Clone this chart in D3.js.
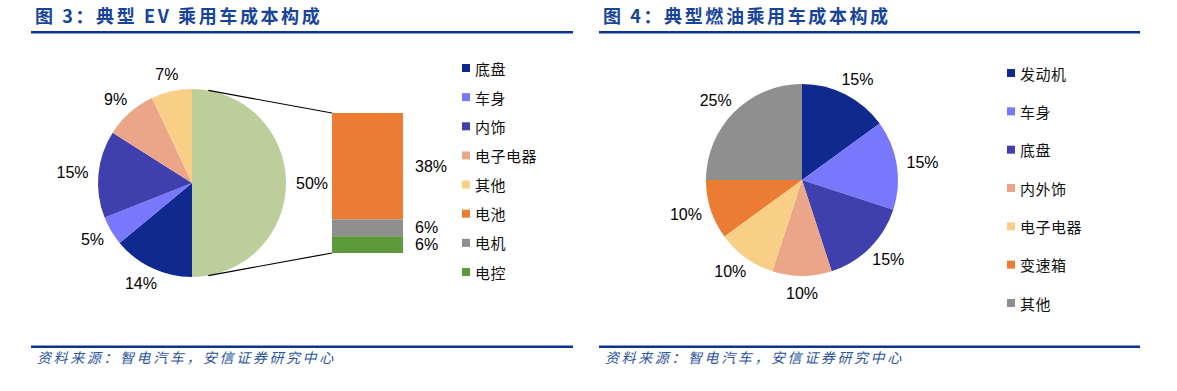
<!DOCTYPE html>
<html>
<head>
<meta charset="utf-8">
<script src="https://cdn.jsdelivr.net/npm/d3@7"></script>
<style>
  html, body { margin:0; padding:0; background:#fff; }
  svg { display:block; }
</style>
</head>
<body>
<div id="chart"></div>
<script>
// Two cost-structure pies: EV (pie + bar-of-pie) and ICE car
const evTitle = "图 3：典型 EV 乘用车成本构成";
const iceTitle = "图 4：典型燃油乘用车成本构成";
const sourceText = "资料来源：智电汽车，安信证券研究中心";

// EV pie slices (first one is the split-out group shown as bar)
const evPieNames  = ["电池系统", "底盘", "车身", "内饰", "电子电器", "其他"];
const evPieValues = [50, 14, 5, 15, 9, 7];
// EV bar (breakdown of the 50% group)
const evBarNames  = ["电池", "电机", "电控"];
const evBarValues = [38, 6, 6];
// EV legend order
const evLegend = ["底盘", "车身", "内饰", "电子电器", "其他", "电池", "电机", "电控"];

// ICE pie
const iceNames  = ["发动机", "车身", "底盘", "内外饰", "电子电器", "变速箱", "其他"];
const iceValues = [15, 15, 15, 10, 10, 10, 25];

const COLOR = {
  "电池系统": "#bccf9b",
  "底盘": "#0f298f",
  "车身": "#7878fd",
  "内饰": "#403fae",
  "电子电器": "#eba68a",
  "其他": "#f9cf87",
  "电池": "#ea7d33",
  "电机": "#8f8f8f",
  "电控": "#5f993d"
};
const ICE_COLOR = {
  "发动机": "#0f298f",
  "车身": "#7878fd",
  "底盘": "#403fae",
  "内外饰": "#eba68a",
  "电子电器": "#f9cf87",
  "变速箱": "#ea7d33",
  "其他": "#8f8f8f"
};

const W = 1177, H = 391;
const titleColor = "#17449a";
const ruleColor = "#0a3595";
const labelFont = "'Liberation Sans', Arial, sans-serif";
const cjkFont = "'Noto Sans CJK SC', sans-serif";

const svg = d3.select("#chart").append("svg")
  .attr("width", W).attr("height", H)
  .attr("viewBox", `0 0 ${W} ${H}`);

// ---- frame: title, rules, source ----
function frame(x0, x1, title) {
  svg.append("text")
    .attr("x", x0 + 4).attr("y", 23)
    .attr("fill", titleColor)
    .attr("font-family", cjkFont)
    .attr("font-weight", 700)
    .attr("font-size", 18)
    .attr("letter-spacing", 2.6)
    .text(title);
  svg.append("rect").attr("x", x0).attr("y", 31).attr("width", x1 - x0).attr("height", 2.5).attr("fill", ruleColor);
  svg.append("rect").attr("x", x0).attr("y", 345.5).attr("width", x1 - x0).attr("height", 2.5).attr("fill", ruleColor);
  svg.append("text")
    .attr("x", x0 + 6).attr("y", 363)
    .attr("fill", "#2d559c")
    .attr("font-family", cjkFont)
    .attr("font-style", "italic")
    .attr("font-size", 14)
    .attr("letter-spacing", 2.6)
    .text(sourceText);
}
frame(31, 573, evTitle);
frame(599, 1140, iceTitle);

// ---- helpers ----
const pie = d3.pie().sort(null).value(d => d.v).startAngle(0).endAngle(2 * Math.PI);

function outsideLabel(g, arcD, r, text) {
  const a = (arcD.startAngle + arcD.endAngle) / 2;
  const t = g.append("text")
    .attr("font-family", labelFont)
    .attr("font-size", 16)
    .attr("fill", "#000")
    .attr("text-anchor", "middle")
    .attr("dominant-baseline", "central")
    .text(text);
  const w = t.node().getComputedTextLength();
  const h = 14;
  const rr = r + 10;
  const x = rr * Math.sin(a) + (w / 2) * Math.sin(a);
  const y = -rr * Math.cos(a) - (h / 2) * Math.cos(a);
  t.attr("x", x).attr("y", y);
}

function legend(names, colors, x, y0, y1) {
  const ys = d3.scalePoint().domain(names).range([y0, y1]);
  const g = svg.append("g");
  names.forEach(n => {
    g.append("rect").attr("x", x).attr("y", ys(n) - 4).attr("width", 8).attr("height", 8).attr("fill", colors[n]);
    g.append("text")
      .attr("x", x + 13).attr("y", ys(n))
      .attr("dominant-baseline", "central")
      .attr("font-family", cjkFont)
      .attr("font-size", 15)
      .attr("letter-spacing", 0.5)
      .attr("fill", "#111")
      .text(n);
  });
}

// ---- EV pie ----
const r1 = 94;
const cx1 = 192, cy1 = 183;
const g1 = svg.append("g").attr("transform", `translate(${cx1},${cy1})`);
const evData = pie(evPieNames.map((n, i) => ({ n, v: evPieValues[i] })));
const arc1 = d3.arc().innerRadius(0).outerRadius(r1);
g1.selectAll("path").data(evData).join("path")
  .attr("d", arc1)
  .attr("fill", d => COLOR[d.data.n]);
evData.forEach(d => outsideLabel(g1, d, r1, d.data.v + "%"));

// bar of pie
const barX = d3.scaleBand().domain(["bar"]).range([332, 403]).padding(0);
const barTotal = d3.sum(evBarValues);
const barY = d3.scaleLinear().domain([0, barTotal]).range([113, 253]);
let acc = 0;
const stacked = evBarNames.map((n, i) => {
  const s = { n, v: evBarValues[i], y0: acc, y1: acc + evBarValues[i] };
  acc += evBarValues[i];
  return s;
});
svg.selectAll("rect.evbar").data(stacked).join("rect")
  .attr("class", "evbar")
  .attr("x", barX("bar"))
  .attr("width", barX.bandwidth())
  .attr("y", d => barY(d.y0))
  .attr("height", d => barY(d.y1) - barY(d.y0))
  .attr("fill", d => COLOR[d.n]);
svg.selectAll("text.evbarlab").data(stacked).join("text")
  .attr("class", "evbarlab")
  .attr("x", barX("bar") + barX.bandwidth() + 12)
  .attr("y", d => (barY(d.y0) + barY(d.y1)) / 2)
  .attr("dominant-baseline", "central")
  .attr("font-family", labelFont)
  .attr("font-size", 16)
  .text(d => d.v + "%");

// connector lines from the split slice to the bar
const cAng = 10 * Math.PI / 180;
const conn = [
  { a: cAng, y: barY(0) },
  { a: Math.PI - cAng, y: barY(barTotal) }
];
svg.selectAll("line.conn").data(conn).join("line")
  .attr("class", "conn")
  .attr("x1", d => cx1 + r1 * Math.sin(d.a))
  .attr("y1", d => cy1 - r1 * Math.cos(d.a))
  .attr("x2", barX("bar"))
  .attr("y2", d => d.y)
  .attr("stroke", "#000")
  .attr("stroke-width", 1.2);

legend(evLegend, COLOR, 462, 68, 272);

// ---- ICE pie ----
const r2 = 96;
const g2 = svg.append("g").attr("transform", `translate(802,180)`);
const iceData = pie(iceNames.map((n, i) => ({ n, v: iceValues[i] })));
const arc2 = d3.arc().innerRadius(0).outerRadius(r2);
g2.selectAll("path").data(iceData).join("path")
  .attr("d", arc2)
  .attr("fill", d => ICE_COLOR[d.data.n]);
iceData.forEach(d => outsideLabel(g2, d, r2, d.data.v + "%"));

legend(iceNames, ICE_COLOR, 1007, 73, 303);
</script>
</body>
</html>
